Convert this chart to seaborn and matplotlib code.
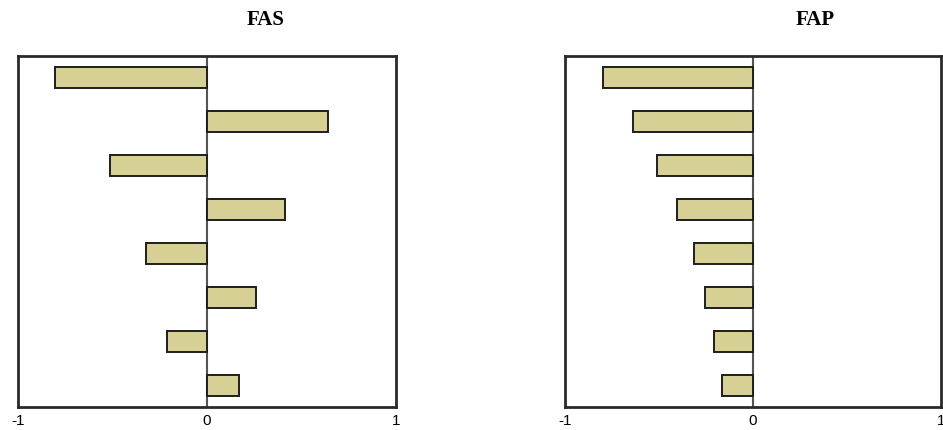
import matplotlib
matplotlib.use("Agg")
import matplotlib.pyplot as plt
import seaborn as sns
import pandas as pd

lags = ["1", "2", "3", "4", "5", "6", "7", "8"]
fas_values = [-0.804, 0.639, -0.512, 0.411, -0.322, 0.260, -0.212, 0.168]
fap_values = [-0.796, -0.636, -0.509, -0.407, -0.314, -0.257, -0.207, -0.163]
titles = ["FAS", "FAP"]
xticks = [-1, 0, 1]
xticklabels = ["-1", "0", "1"]

sns.set_theme(style="white")
plt.rcParams["font.family"] = ["Liberation Sans", "DejaVu Sans"]

fig = plt.figure(figsize=(9.43, 4.31), dpi=100)
ax_pos = [[0.0194, 0.0534, 0.4002, 0.8143], [0.5992, 0.0534, 0.3987, 0.8143]]
title_x = [266 / 943, 815 / 943]

bar_color = "#D6D094"
for i, (vals, title) in enumerate(zip([fas_values, fap_values], titles)):
    ax = fig.add_axes(ax_pos[i])
    df = pd.DataFrame({"lag": lags, "value": vals})
    sns.barplot(data=df, x="value", y="lag", orient="h", width=0.48,
                color=bar_color, edgecolor="#1e1e1e", linewidth=1.4,
                saturation=1, ax=ax, zorder=3)
    ax.axvline(0, color="#555555", linewidth=1.5, zorder=2)
    ax.set_xlim(-1, 1)
    ax.set_ylim(7.5, -0.5)
    ax.set_xticks(xticks)
    ax.set_xticklabels(xticklabels, fontsize=11, color="#000000")
    ax.set_yticks([])
    ax.set_xlabel("")
    ax.set_ylabel("")
    ax.tick_params(axis="x", length=0, pad=4)
    for s in ax.spines.values():
        s.set_color("#2a2a2a")
        s.set_linewidth(2)
        s.set_visible(True)
    fig.text(title_x[i], 1 - 20 / 431, title, ha="center", va="center",
             fontsize=15, fontweight="bold", color="#000000",
             family=["Liberation Serif", "DejaVu Serif"])

fig.savefig("out.png", dpi=100, facecolor="white")
